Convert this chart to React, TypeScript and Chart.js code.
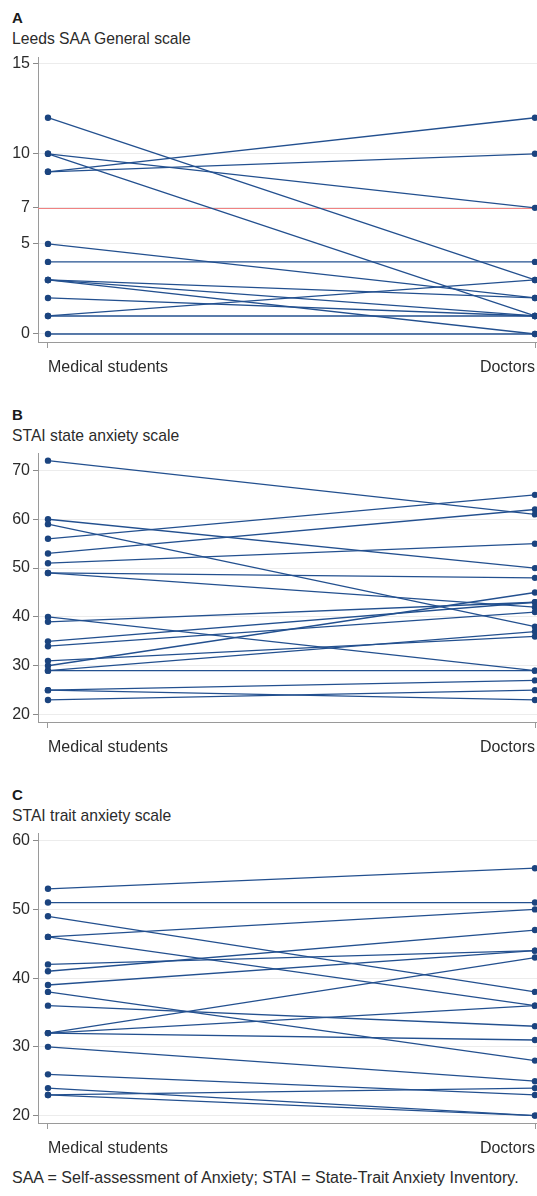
import React, { useEffect, useRef } from "react";
import { Chart, registerables } from "chart.js";

Chart.register(...registerables);

const groups = ["Medical students", "Doctors"];

// Panel A – Leeds SAA General scale (paired scores)
const saaStudents = [12, 10, 10, 9, 9, 5, 4, 3, 3, 3, 2, 1, 1, 0];
const saaDoctors = [3, 7, 1, 12, 10, 2, 4, 2, 1, 0, 1, 3, 1, 0];
const saaTicks = [0, 5, 7, 10, 15];
const saaCutoff = 7;

// Panel B – STAI state anxiety scale
const stateStudents = [72, 60, 59, 56, 53, 51, 49, 49, 40, 39, 35, 34, 31, 30, 29, 29, 25, 25, 23];
const stateDoctors = [61, 50, 38, 65, 62, 55, 48, 42, 29, 43, 43, 41, 36, 45, 37, 29, 27, 23, 25];
const stateTicks = [20, 30, 40, 50, 60, 70];

// Panel C – STAI trait anxiety scale
const traitStudents = [53, 51, 49, 46, 46, 42, 41, 39, 38, 36, 32, 32, 32, 30, 26, 24, 23, 23];
const traitDoctors = [56, 51, 38, 50, 36, 44, 47, 44, 28, 33, 43, 36, 31, 25, 23, 20, 24, 20];
const traitTicks = [20, 30, 40, 50, 60];

const FONT = "'Liberation Sans', Arial, Helvetica, sans-serif";
const LINE = "#23508f";
const DOT = "#1b447f";
const TEXT = "#2b2b2b";
const CUTOFF_COLOR = "#f08282";

type PanelProps = {
  top: number;
  height: number;
  padTop: number;
  yMin: number;
  yMax: number;
  ticks: number[];
  students: number[];
  doctors: number[];
  cutoff?: number;
};

function Panel({ top, height, padTop, yMin, yMax, ticks, students, doctors, cutoff }: PanelProps) {
  const ref = useRef<HTMLCanvasElement | null>(null);
  useEffect(() => {
    const canvas = ref.current;
    if (!canvas) return;
    const axisH = 36;
    const cutoffPlugin = {
      id: "cutoffLine",
      beforeDatasetsDraw(chart: any) {
        if (cutoff === undefined) return;
        const { ctx, chartArea, scales } = chart;
        const y = Math.round(scales.y.getPixelForValue(cutoff)) + 0.5;
        ctx.save();
        ctx.strokeStyle = CUTOFF_COLOR;
        ctx.lineWidth = 1;
        ctx.beginPath();
        ctx.moveTo(chartArea.left, y);
        ctx.lineTo(chartArea.right, y);
        ctx.stroke();
        ctx.restore();
      },
    };
    const chart = new Chart(canvas, {
      type: "scatter",
      data: {
        datasets: students.map((s, i) => ({
          data: [
            { x: 0, y: s },
            { x: 1, y: doctors[i] },
          ],
          showLine: true,
          borderColor: LINE,
          borderWidth: 1.3,
          pointRadius: 3.2,
          pointBackgroundColor: DOT,
          pointBorderWidth: 0,
          clip: false as any,
        })),
      },
      options: {
        responsive: false,
        animation: false,
        devicePixelRatio: 1,
        layout: { autoPadding: false, padding: { top: padTop, left: 0, right: 0, bottom: 0 } },
        plugins: { legend: { display: false }, tooltip: { enabled: false } },
        scales: {
          x: {
            type: "linear",
            min: -0.0205,
            max: 1.0041,
            afterBuildTicks: (s: any) => {
              s.ticks = [{ value: 0 }, { value: 1 }];
            },
            afterFit: (s: any) => {
              s.height = axisH;
              s.paddingLeft = 0;
              s.paddingRight = 0;
            },
            ticks: {
              callback: (v: any) => (v === 0 ? groups[0] : v === 1 ? groups[1] : ""),
              align: "inner",
              font: { family: FONT, size: 16 },
              color: TEXT,
              padding: 10,
              maxRotation: 0,
              autoSkip: false,
            },
            grid: { drawOnChartArea: false, drawTicks: true, tickLength: 6, color: "#9a9a9a" },
            border: { display: true, color: "#9a9a9a" },
          },
          y: {
            type: "linear",
            min: yMin,
            max: yMax,
            afterBuildTicks: (s: any) => {
              s.ticks = ticks.map((v) => ({ value: v }));
            },
            afterFit: (s: any) => {
              s.width = 38;
              s.paddingTop = 0;
              s.paddingBottom = 0;
            },
            ticks: {
              font: { family: FONT, size: 16 },
              color: TEXT,
              padding: 3,
              callback: (v: any) => String(v),
            },
            grid: {
              color: "#ececec",
              tickColor: "#8a8a8a",
              tickLength: 5,
              lineWidth: 1,
            },
            border: { display: true, color: "#9a9a9a" },
          },
        },
      },
      plugins: [cutoffPlugin],
    } as any);
    return () => chart.destroy();
  }, []);
  return (
    <canvas
      ref={ref}
      width={537}
      height={height}
      style={{ position: "absolute", left: 0, top, width: 537, height }}
    />
  );
}

const letterStyle = (top: number): React.CSSProperties => ({
  position: "absolute",
  left: 12,
  top,
  fontFamily: FONT,
  fontWeight: "bold",
  fontSize: 15,
  lineHeight: "16px",
  color: "#1a1a1a",
});

const titleStyle = (top: number): React.CSSProperties => ({
  position: "absolute",
  left: 12,
  top,
  fontFamily: FONT,
  fontSize: 15.7,
  lineHeight: "17px",
  color: TEXT,
  whiteSpace: "nowrap",
});

export default function App() {
  return (
    <div style={{ position: "absolute", left: 0, top: 0, width: 537, height: 1196, background: "#fff" }}>
      <div style={letterStyle(10)}>A</div>
      <div style={titleStyle(30)}>Leeds SAA General scale</div>
      <Panel
        top={50}
        height={328}
        padTop={7}
        yMin={-0.444}
        yMax={15.37}
        ticks={saaTicks}
        students={saaStudents}
        doctors={saaDoctors}
        cutoff={saaCutoff}
      />
      <div style={letterStyle(407)}>B</div>
      <div style={titleStyle(427)}>STAI state anxiety scale</div>
      <Panel
        top={445}
        height={313}
        padTop={8}
        yMin={18.48}
        yMax={73.57}
        ticks={stateTicks}
        students={stateStudents}
        doctors={stateDoctors}
      />
      <div style={letterStyle(787)}>C</div>
      <div style={titleStyle(807)}>STAI trait anxiety scale</div>
      <Panel
        top={825}
        height={334}
        padTop={8}
        yMin={18.92}
        yMax={61.12}
        ticks={traitTicks}
        students={traitStudents}
        doctors={traitDoctors}
      />
      <div style={{ ...titleStyle(1169), fontSize: 16, lineHeight: "18px" }}>
        SAA = Self-assessment of Anxiety; STAI = State-Trait Anxiety Inventory.
      </div>
    </div>
  );
}
